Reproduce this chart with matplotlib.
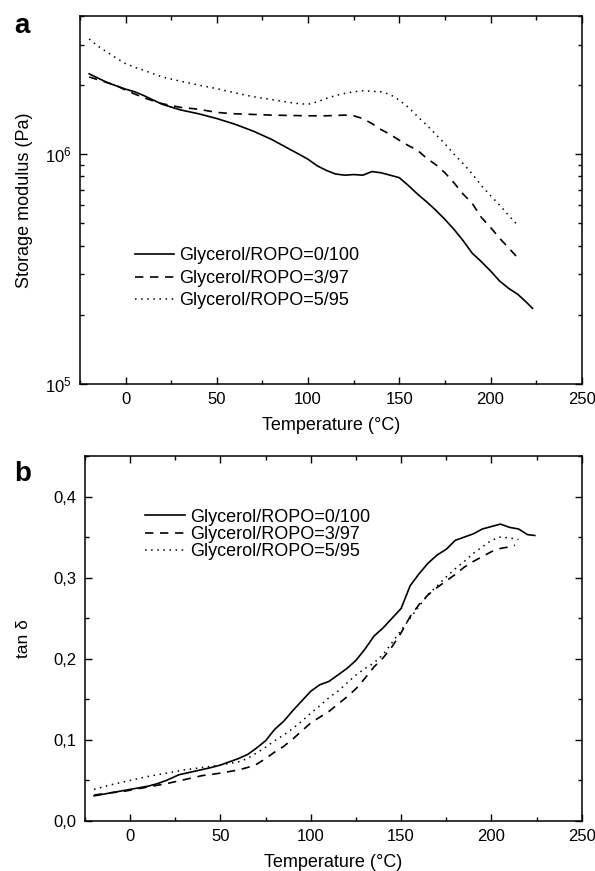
import matplotlib
matplotlib.use("Agg")
import matplotlib.pyplot as plt
from matplotlib.ticker import MultipleLocator, FuncFormatter, LogLocator, NullFormatter

plt.rcParams['font.family'] = ['Liberation Sans', 'DejaVu Sans']

labels = ["Glycerol/ROPO=0/100", "Glycerol/ROPO=3/97", "Glycerol/ROPO=5/95"]

# Panel a: storage modulus (Pa)
T_a0 = [-20, -10, 0, 5, 10, 20, 30, 40, 50, 60, 70, 80, 90, 95, 100, 105, 110, 115, 120, 125, 130, 135, 140, 145, 150, 155, 160, 165, 170, 175, 180, 185, 190, 195, 200, 205, 210, 215, 220, 223]
E_a0 = [2.24e6, 2.05e6, 1.92e6, 1.87e6, 1.80e6, 1.65e6, 1.56e6, 1.50e6, 1.43e6, 1.35e6, 1.26e6, 1.16e6, 1.05e6, 1.00e6, 0.95e6, 0.89e6, 0.85e6, 0.82e6, 0.81e6, 0.815e6, 0.81e6, 0.84e6, 0.83e6, 0.81e6, 0.79e6, 0.73e6, 0.67e6, 0.62e6, 0.57e6, 0.52e6, 0.47e6, 0.42e6, 0.37e6, 0.34e6, 0.31e6, 0.28e6, 0.26e6, 0.245e6, 0.225e6, 0.213e6]

T_a1 = [-20, -10, -5, 0, 10, 20, 30, 40, 50, 60, 70, 80, 90, 100, 110, 120, 125, 130, 135, 140, 145, 150, 155, 160, 165, 170, 175, 180, 185, 190, 195, 200, 205, 210, 214]
E_a1 = [2.17e6, 2.05e6, 1.99e6, 1.90e6, 1.76e6, 1.66e6, 1.60e6, 1.57e6, 1.52e6, 1.50e6, 1.49e6, 1.48e6, 1.475e6, 1.47e6, 1.47e6, 1.48e6, 1.47e6, 1.43e6, 1.36e6, 1.28e6, 1.22e6, 1.15e6, 1.09e6, 1.04e6, 0.96e6, 0.90e6, 0.83e6, 0.75e6, 0.67e6, 0.61e6, 0.53e6, 0.48e6, 0.43e6, 0.39e6, 0.36e6]

T_a2 = [-20, -15, -10, -5, 0, 5, 10, 20, 30, 40, 50, 60, 70, 80, 90, 95, 100, 105, 110, 115, 120, 125, 130, 135, 140, 145, 150, 155, 160, 165, 170, 175, 180, 185, 190, 195, 200, 205, 210, 215]
E_a2 = [3.18e6, 2.95e6, 2.78e6, 2.62e6, 2.48e6, 2.39e6, 2.32e6, 2.17e6, 2.08e6, 2.00e6, 1.93e6, 1.85e6, 1.78e6, 1.73e6, 1.68e6, 1.66e6, 1.65e6, 1.69e6, 1.75e6, 1.80e6, 1.84e6, 1.87e6, 1.89e6, 1.88e6, 1.87e6, 1.82e6, 1.72e6, 1.60e6, 1.46e6, 1.34e6, 1.22e6, 1.11e6, 1.00e6, 0.91e6, 0.82e6, 0.73e6, 0.66e6, 0.60e6, 0.54e6, 0.49e6]

# Panel b: tan delta
T_b0 = [-20, -10, 0, 10, 15, 20, 27, 35, 45, 50, 55, 60, 65, 70, 75, 80, 85, 90, 95, 100, 105, 110, 115, 120, 125, 130, 135, 140, 145, 150, 155, 160, 165, 170, 175, 180, 185, 190, 195, 200, 205, 210, 215, 220, 224]
V_b0 = [0.031, 0.035, 0.039, 0.043, 0.046, 0.050, 0.057, 0.061, 0.066, 0.069, 0.073, 0.077, 0.082, 0.090, 0.099, 0.113, 0.123, 0.136, 0.148, 0.160, 0.168, 0.172, 0.180, 0.188, 0.198, 0.212, 0.228, 0.238, 0.250, 0.262, 0.290, 0.305, 0.318, 0.328, 0.335, 0.346, 0.350, 0.354, 0.360, 0.363, 0.366, 0.362, 0.360, 0.353, 0.352]

T_b1 = [-20, -10, -5, 0, 10, 20, 30, 40, 50, 60, 65, 70, 75, 80, 85, 90, 95, 100, 105, 110, 115, 120, 125, 130, 135, 140, 145, 150, 155, 160, 165, 170, 175, 180, 185, 190, 195, 200, 205, 210, 213]
V_b1 = [0.032, 0.035, 0.036, 0.038, 0.042, 0.046, 0.051, 0.056, 0.059, 0.063, 0.066, 0.070, 0.077, 0.085, 0.092, 0.101, 0.111, 0.121, 0.128, 0.135, 0.144, 0.153, 0.163, 0.176, 0.190, 0.201, 0.215, 0.232, 0.252, 0.267, 0.279, 0.288, 0.296, 0.304, 0.313, 0.320, 0.326, 0.332, 0.336, 0.338, 0.340]

T_b2 = [-20, -10, 0, 10, 20, 30, 40, 50, 60, 65, 70, 75, 80, 85, 90, 95, 100, 105, 110, 115, 120, 125, 130, 135, 140, 145, 150, 155, 160, 165, 170, 175, 180, 185, 190, 195, 200, 205, 210, 215]
V_b2 = [0.039, 0.045, 0.050, 0.055, 0.059, 0.063, 0.066, 0.069, 0.073, 0.077, 0.084, 0.091, 0.099, 0.106, 0.114, 0.123, 0.133, 0.142, 0.152, 0.160, 0.170, 0.180, 0.188, 0.195, 0.205, 0.220, 0.235, 0.250, 0.265, 0.279, 0.290, 0.301, 0.311, 0.320, 0.330, 0.338, 0.346, 0.350, 0.349, 0.347]

styles = [dict(ls='-', lw=1.2),
          dict(ls=(0, (5, 4)), lw=1.2),
          dict(ls=(0, (1, 3)), lw=1.1)]

fig = plt.figure(figsize=(5.95, 8.71), dpi=100)
ax1 = fig.add_axes([0.1345, 0.5595, 0.8432, 0.4221])
ax2 = fig.add_axes([0.1429, 0.0574, 0.8348, 0.4191])

for T, E, st, lab in zip([T_a0, T_a1, T_a2], [E_a0, E_a1, E_a2], styles, labels):
    ax1.plot(T, E, color='black', label=lab, **st)
ax1.set_yscale('log')
ax1.set_ylim(1e5, 4e6)
ax1.set_xlim(-25, 250)
ax1.xaxis.set_major_locator(MultipleLocator(50))
ax1.xaxis.set_minor_locator(MultipleLocator(25))
ax1.yaxis.set_minor_locator(LogLocator(base=10, subs=range(2, 10)))
ax1.yaxis.set_minor_formatter(NullFormatter())
ax1.set_xlabel("Temperature (°C)", fontsize=13, labelpad=7)
ax1.set_ylabel("Storage modulus (Pa)", fontsize=13, labelpad=9)
ax1.legend(loc='upper left', bbox_to_anchor=(0.085, 0.405), frameon=False, fontsize=13,
           handlelength=2.15, handletextpad=0.3, labelspacing=0.3, borderpad=0.2)

for T, V, st, lab in zip([T_b0, T_b1, T_b2], [V_b0, V_b1, V_b2], styles, labels):
    ax2.plot(T, V, color='black', label=lab, **st)
ax2.set_xlim(-25, 250)
ax2.set_ylim(0, 0.45)
ax2.xaxis.set_major_locator(MultipleLocator(50))
ax2.xaxis.set_minor_locator(MultipleLocator(25))
ax2.yaxis.set_major_locator(MultipleLocator(0.1))
ax2.yaxis.set_minor_locator(MultipleLocator(0.05))
ax2.yaxis.set_major_formatter(FuncFormatter(lambda v, p: f"{v:.1f}".replace('.', ',')))
ax2.set_xlabel("Temperature (°C)", fontsize=13, labelpad=7)
ax2.set_ylabel("tan δ", fontsize=12.5, labelpad=16)
ax2.legend(loc='upper left', bbox_to_anchor=(0.095, 0.89), frameon=False, fontsize=13,
           handlelength=2.2, handletextpad=0.3, labelspacing=0.02, borderpad=0.2)

for ax in (ax1, ax2):
    ax.tick_params(which='both', direction='in', top=True, right=True, labelsize=12, pad=6)
    ax.tick_params(which='major', length=5, width=1)
    ax.tick_params(which='minor', length=3, width=1)
    for s in ax.spines.values():
        s.set_linewidth(1.1)

fig.text(0.024, 0.962, "a", fontsize=20, fontweight='bold')
fig.text(0.024, 0.448, "b", fontsize=20, fontweight='bold')

fig.savefig("out.png", dpi=100)
